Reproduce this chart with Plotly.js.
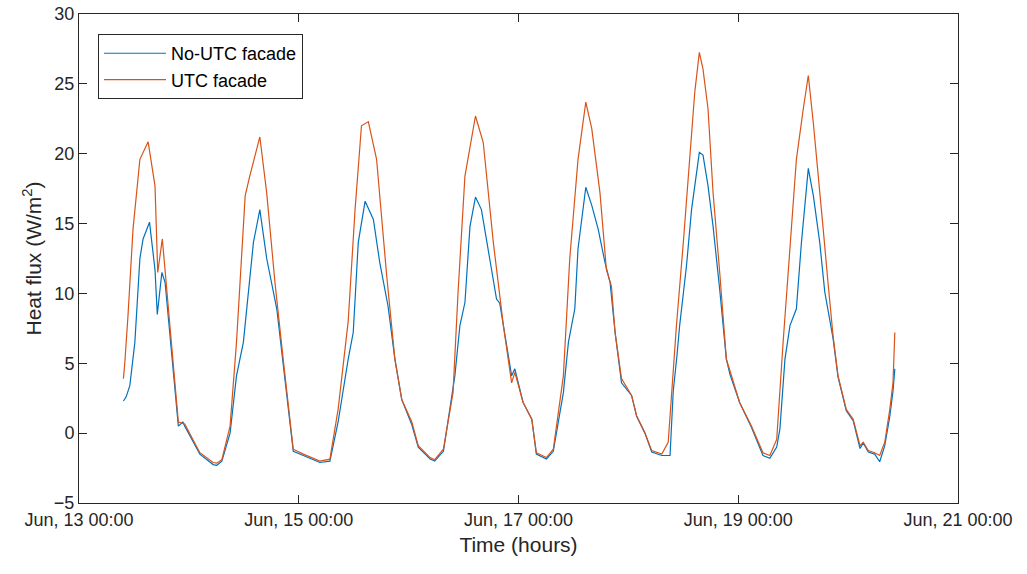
<!DOCTYPE html>
<html>
<head>
<meta charset="utf-8">
<script src="https://cdn.plot.ly/plotly-3.0.1.min.js"></script>
<style>
  html, body { margin: 0; padding: 0; background: #fff; }
  #chart { width: 1027px; height: 574px; }
</style>
</head>
<body>
<div id="chart"></div>
<script>
// Hours since Jun 13 00:00 and heat flux (W/m2)
const utcHours = [9.7, 10.0, 10.7, 11.8, 13.3, 15.1, 16.6, 17.2, 18.2, 19.9, 21.7, 23.1, 26.4, 29.3, 30.1, 31.2, 33.0, 34.4, 36.3, 37.3, 39.5, 41.0, 42.8, 44.6, 46.8, 49.0, 52.6, 54.8, 56.6, 58.8, 60.3, 61.7, 63.2, 65.0, 67.2, 69.0, 70.5, 72.7, 74.1, 76.7, 77.7, 79.6, 81.7, 82.8, 84.3, 86.6, 88.3, 90.5, 91.9, 92.7, 94.5, 95.2, 97.0, 98.9, 99.9, 102.1, 103.6, 105.8, 107.2, 109.0, 110.7, 112.0, 113.8, 115.2, 116.3, 117.1, 118.5, 120.7, 121.8, 123.6, 125.1, 127.3, 128.7, 129.4, 130.5, 132.0, 133.4, 134.5, 135.5, 136.3, 137.4, 138.5, 140.0, 141.4, 142.2, 144.3, 146.9, 149.4, 150.9, 152.4, 153.8, 155.3, 156.7, 158.2, 159.3, 160.4, 161.4, 162.5, 163.6, 164.7, 165.8, 167.6, 169.1, 170.6, 171.3, 172.4, 173.8, 174.9, 176.0, 177.1, 177.8, 178.2];
const utcFlux = [3.9, 5.0, 8.4, 14.6, 19.6, 20.85, 17.7, 11.5, 13.9, 7.7, 0.8, 0.65, -1.4, -2.1, -2.15, -1.9, 0.5, 6.5, 17.0, 18.4, 21.2, 17.2, 10.8, 5.3, -1.15, -1.5, -2.0, -1.86, 1.7, 8.0, 16.0, 22.0, 22.3, 19.6, 11.3, 5.3, 2.4, 0.8, -0.9, -1.75, -1.9, -1.15, 2.9, 10.1, 18.4, 22.7, 20.8, 13.65, 10.1, 7.7, 3.6, 4.35, 2.2, 1.0, -1.4, -1.75, -1.15, 4.1, 12.5, 19.6, 23.7, 21.8, 17.2, 11.7, 10.5, 7.2, 3.9, 2.7, 1.25, 0.05, -1.25, -1.5, -0.65, 2.9, 7.7, 13.65, 19.6, 24.4, 27.25, 26.05, 23.2, 17.2, 11.3, 5.3, 4.45, 2.2, 0.5, -1.4, -1.6, -0.45, 6.5, 13.65, 19.6, 23.2, 25.6, 22.2, 18.4, 14.8, 10.8, 7.0, 4.1, 1.7, 1.0, -0.9, -0.65, -1.25, -1.4, -1.6, -0.65, 1.7, 3.6, 7.2];

const noUtcHours = [9.7, 10.3, 11.1, 12.2, 13.3, 14.0, 15.4, 16.6, 17.1, 18.1, 18.8, 19.9, 21.7, 22.7, 23.1, 26.4, 29.3, 30.1, 31.2, 33.0, 34.4, 35.9, 37.3, 38.1, 39.5, 41.0, 43.2, 44.6, 46.8, 49.0, 52.6, 54.8, 56.6, 58.8, 59.9, 61.0, 62.5, 64.3, 65.7, 67.5, 69.0, 70.5, 72.7, 74.1, 76.7, 77.7, 79.6, 82.1, 83.2, 84.3, 85.4, 86.6, 87.9, 89.7, 91.2, 91.9, 93.0, 94.5, 95.2, 97.0, 98.9, 99.9, 102.1, 103.6, 105.8, 106.9, 108.3, 109.0, 110.7, 112.0, 113.4, 114.9, 116.0, 117.1, 118.5, 120.7, 121.8, 123.6, 125.1, 127.3, 129.1, 129.8, 130.6, 131.2, 132.7, 133.8, 135.5, 136.3, 137.4, 138.5, 140.0, 141.4, 142.2, 144.3, 146.9, 149.4, 150.9, 152.4, 153.1, 154.2, 155.3, 156.7, 157.8, 159.3, 160.4, 161.8, 162.9, 164.7, 165.8, 167.6, 169.1, 170.6, 171.3, 172.4, 173.8, 174.9, 176.0, 177.1, 177.8, 178.2];
const noUtcFlux = [2.3, 2.6, 3.4, 6.5, 12.5, 13.9, 15.1, 11.7, 8.5, 11.5, 10.8, 7.0, 0.5, 0.8, 0.5, -1.5, -2.25, -2.3, -2.0, 0.0, 4.1, 6.5, 11.3, 13.65, 16.0, 12.5, 8.9, 5.0, -1.3, -1.6, -2.1, -2.0, 0.8, 5.3, 7.2, 13.65, 16.6, 15.3, 12.2, 9.1, 5.3, 2.4, 0.6, -1.0, -1.85, -2.0, -1.3, 4.1, 7.7, 9.35, 14.8, 16.9, 16.0, 12.5, 9.6, 9.3, 7.0, 4.1, 4.6, 2.2, 1.0, -1.5, -1.85, -1.3, 2.9, 6.5, 8.9, 13.2, 17.6, 16.3, 14.6, 12.2, 10.8, 7.2, 3.6, 2.7, 1.2, 0.0, -1.35, -1.6, -1.6, 3.0, 5.5, 7.7, 12.0, 16.0, 20.1, 19.9, 17.7, 14.8, 10.1, 5.3, 4.2, 2.2, 0.4, -1.6, -1.8, -1.0, 0.3, 5.3, 7.7, 8.9, 13.65, 18.95, 17.0, 13.65, 10.1, 6.8, 4.0, 1.6, 0.9, -1.1, -0.7, -1.35, -1.5, -2.05, -0.9, 1.2, 3.0, 4.6];

const seriesNames = ['No-UTC facade', 'UTC facade'];
const xTitle = 'Time (hours)';
const yTitle = 'Heat flux (W/m<sup>2</sup>)';
const startDate = Date.UTC(2019, 5, 13);

function pad(n) { return (n < 10 ? '0' : '') + n; }
function toDate(h) {
  const d = new Date(startDate + h * 3600000);
  return d.getUTCFullYear() + '-' + pad(d.getUTCMonth() + 1) + '-' + pad(d.getUTCDate()) + ' ' +
         pad(d.getUTCHours()) + ':' + pad(d.getUTCMinutes()) + ':' + pad(d.getUTCSeconds());
}

const axisColor = '#262626';
const traces = [
  { x: noUtcHours.map(toDate), y: noUtcFlux, type: 'scatter', mode: 'lines', name: seriesNames[0],
    line: { color: '#0072BD', width: 1.2 } },
  { x: utcHours.map(toDate), y: utcFlux, type: 'scatter', mode: 'lines', name: seriesNames[1],
    line: { color: '#D95319', width: 1.2 } }
];

const font = 'Liberation Sans, Arial, Helvetica, sans-serif';
const layout = {
  width: 1027, height: 574,
  margin: { l: 79, r: 69, t: 14, b: 71 },
  paper_bgcolor: '#fff', plot_bgcolor: '#fff',
  font: { family: font, color: axisColor, size: 18 },
  showlegend: true,
  legend: {
    x: 0.0216, y: 0.959, xanchor: 'left', yanchor: 'top',
    bgcolor: '#fff', bordercolor: axisColor, borderwidth: 1,
    font: { family: font, size: 18, color: '#000' },
    itemwidth: 62,
    tracegroupgap: 0
  },
  xaxis: {
    type: 'date',
    range: [toDate(0), toDate(192)],
    tick0: toDate(0), dtick: 2 * 86400000,
    tickformat: '%b, %d %H:%M',
    ticks: 'inside', ticklen: 8, tickcolor: axisColor, tickwidth: 1,
    showline: true, linecolor: axisColor, linewidth: 1, mirror: 'ticks',
    showgrid: false, zeroline: false,
    tickfont: { family: font, size: 18, color: axisColor },
    title: { text: xTitle, font: { family: font, size: 21, color: axisColor }, standoff: 8 }
  },
  yaxis: {
    range: [-5, 30], dtick: 5, tick0: 0,
    ticks: 'inside', ticklen: 8, tickcolor: axisColor, tickwidth: 1,
    showline: true, linecolor: axisColor, linewidth: 1, mirror: 'ticks',
    showgrid: false, zeroline: false,
    tickfont: { family: font, size: 18, color: axisColor },
    title: { text: yTitle, font: { family: font, size: 21, color: axisColor }, standoff: 6 }
  }
};

Plotly.newPlot('chart', traces, layout, { staticPlot: true, displayModeBar: false });
</script>
</body>
</html>
